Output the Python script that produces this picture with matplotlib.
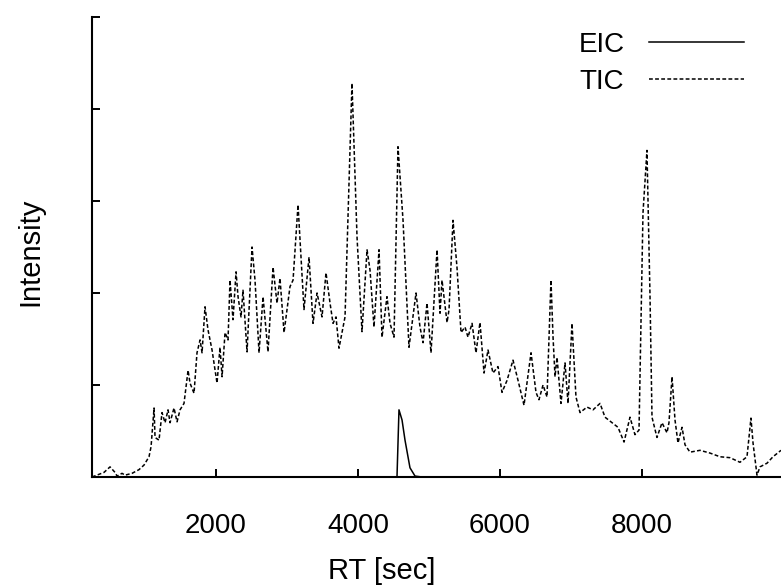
import matplotlib.pyplot as plt

# TIC trace, retention time in seconds
tic_rt = [253, 422, 507, 577, 606, 676, 718, 817, 915, 986,
          1056, 1085, 1127, 1141, 1197, 1239, 1282, 1324, 1352, 1408,
          1451, 1493, 1549, 1606, 1634, 1690, 1732, 1775, 1803, 1845,
          1887, 1944, 2014, 2056, 2085, 2127, 2169, 2197, 2239, 2282,
          2310, 2352, 2380, 2437, 2507, 2549, 2606, 2662, 2732, 2803,
          2859, 2901, 2958, 3042, 3085, 3113, 3155, 3183, 3239, 3310,
          3366, 3423, 3493, 3549, 3606, 3648, 3690, 3732, 3817, 3915,
          3986, 4056, 4127, 4169, 4225, 4296, 4338, 4408, 4451, 4507,
          4563, 4634, 4718, 4817, 4873, 4916, 4972, 5028, 5113, 5155,
          5183, 5254, 5282, 5338, 5394, 5451, 5507, 5549, 5606, 5662,
          5718, 5775, 5831, 5901, 5972, 6028, 6099, 6183, 6254, 6338,
          6437, 6507, 6549, 6606, 6662, 6718, 6747, 6775, 6803, 6859,
          6916, 6958, 7014, 7070, 7127, 7225, 7310, 7409, 7479, 7578,
          7662, 7747, 7831, 7901, 7958, 8014, 8070, 8113, 8141, 8211,
          8282, 8352, 8380, 8423, 8465, 8507, 8564, 8606, 8676, 8817,
          8958, 9099, 9240, 9380, 9479, 9535, 9564, 9620, 9662, 9761,
          9845, 9958]
tic_int = [0.00, 0.05, 0.11, 0.05, 0.01, 0.04, 0.02, 0.04, 0.08, 0.13,
           0.22, 0.33, 0.75, 0.43, 0.40, 0.70, 0.59, 0.73, 0.59, 0.75,
           0.60, 0.73, 0.80, 1.16, 1.02, 0.91, 1.35, 1.49, 1.35, 1.85,
           1.60, 1.38, 1.02, 1.41, 1.09, 1.57, 1.49, 2.14, 1.71, 2.23,
           1.96, 1.74, 2.03, 1.36, 2.50, 2.14, 1.35, 1.96, 1.36, 2.28,
           1.89, 2.16, 1.57, 2.07, 2.14, 2.47, 2.96, 2.58, 1.82, 2.39,
           1.67, 2.00, 1.74, 2.22, 1.89, 1.67, 1.74, 1.40, 1.74, 4.28,
           2.61, 1.58, 2.47, 2.25, 1.63, 2.47, 1.52, 1.96, 1.67, 1.52,
           3.59, 2.79, 1.41, 2.00, 1.63, 1.46, 1.89, 1.35, 2.47, 1.78,
           2.14, 1.68, 1.82, 2.79, 2.28, 1.57, 1.63, 1.52, 1.67, 1.35,
           1.68, 1.13, 1.38, 1.13, 1.20, 0.92, 1.05, 1.27, 1.05, 0.78,
           1.35, 0.92, 0.84, 1.00, 0.87, 2.14, 1.52, 1.09, 1.30, 0.80,
           1.24, 0.80, 1.67, 0.87, 0.70, 0.76, 0.73, 0.80, 0.65, 0.59,
           0.54, 0.38, 0.65, 0.46, 0.51, 2.87, 3.55, 1.96, 0.65, 0.43,
           0.59, 0.48, 0.59, 1.09, 0.62, 0.37, 0.54, 0.35, 0.27, 0.29,
           0.26, 0.22, 0.21, 0.16, 0.22, 0.64, 0.37, 0.02, 0.11, 0.15,
           0.22, 0.29]

# EIC trace
eic_rt = [253, 4500, 4549, 4577, 4620, 4662, 4732, 4803, 4900, 9958]
eic_int = [0.0, 0.0, 0.0, 0.73, 0.62, 0.40, 0.10, 0.01, 0.0, 0.0]

plt.rcParams['font.family'] = ['Liberation Sans', 'DejaVu Sans']

fig = plt.figure(figsize=(7.81, 5.88), dpi=100)
ax = fig.add_axes([92 / 781, 111 / 588, 689 / 781, 460 / 588])

ax.plot(eic_rt, eic_int, color='black', lw=1.1, label='EIC')
ax.plot(tic_rt, tic_int, color='black', lw=1.1, dashes=(2.5, 1.5), label='TIC')

ax.set_xlim(253, 9958)
ax.set_ylim(0, 5)
ax.set_xticks([2000, 4000, 6000, 8000])
ax.set_yticks([0, 1, 2, 3, 4, 5])
ax.set_yticklabels([])
ax.tick_params(direction='in', length=6, width=1.4, labelsize=20)
ax.tick_params(axis='x', pad=26)
ax.tick_params(axis='y', left=True, pad=10)

for side in ['top', 'right']:
    ax.spines[side].set_visible(False)
for side in ['left', 'bottom']:
    ax.spines[side].set_linewidth(1.5)

ax.set_xlabel('RT [sec]', fontsize=21, labelpad=14)
ax.xaxis.set_label_coords(290 / 689, -80 / 460)
ax.set_ylabel('Intensity', fontsize=21)
ax.yaxis.set_label_coords(-48 / 689, 0.49)

ax.legend(loc='upper right', frameon=False, markerfirst=False, fontsize=20,
          handlelength=3.4, handletextpad=0.9, labelspacing=0.4,
          borderaxespad=0.0, bbox_to_anchor=(1.0 - 26 / 689, 1.0 - 4 / 460))

fig.savefig('out.png', dpi=100)
